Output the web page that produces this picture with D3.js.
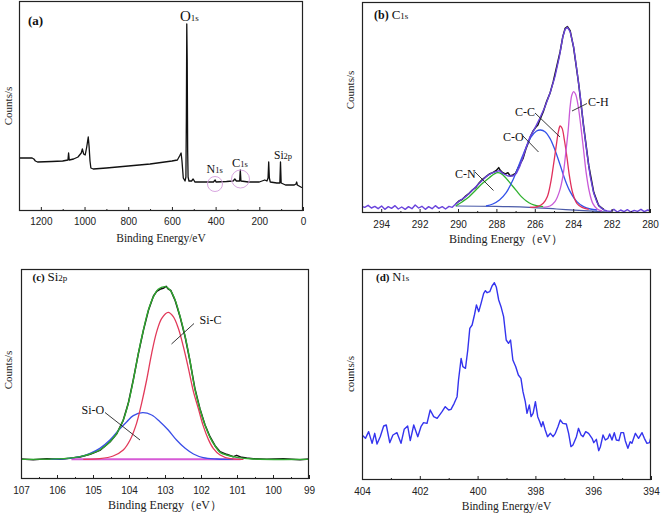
<!DOCTYPE html>
<html><head><meta charset="utf-8">
<script src="https://cdn.jsdelivr.net/npm/d3@7"></script>
<style>body{margin:0;background:#fff}</style>
</head><body><svg id="c" width="661" height="515"></svg>
<script>
// ---------- DATA (binding energy eV, intensity in arbitrary counts) ----------
const surveyData = [[1300,53],[1262,53],[1240,53],[1232,52],[1225,50],[1215,49],[1150,49.5],[1100,50],[1076,51],[1073,58],[1070,51],[1050,52],[1030,54],[1015,58],[1010,62],[1004,57],[997,56],[990,64],[983,74],[979,64],[975,50],[971,43],[960,42],[900,43],[800,45],[700,47],[600,50],[575,51],[565,55],[558,58],[554,50],[548,33],[540,30],[536,34],[534,90],[532,187],[530,150],[528,60],[526,34],[522,30],[510,30],[503,32],[500,31],[495,29],[450,29],[410,29],[402,31],[398,29],[350,29.5],[320,30],[312,32],[305,30],[290,30],[287,41],[284,30],[250,29],[200,29],[175,31],[165,30],[160,33],[157,49],[154,33],[150,29],[120,28],[106,28],[103,49],[100,28],[80,26],[40,26],[32,27],[29,29],[26,26],[10,24],[0,23]];
const surveyTicks = [1200,1000,800,600,400,200,0];
const surveyMinor = [1300,1100,900,700,500,300,100];

const c1sEnvelope = [[295.09,21],[294.86,17],[294.68,23],[294.51,15],[294.33,20],[294.16,13],[293.98,21],[293.81,11],[293.63,19],[293.46,14],[293.28,22],[293.11,12],[292.93,18],[292.75,11],[292.58,19],[292.40,13],[292.23,24],[292.05,15],[291.88,20],[291.70,11],[291.53,19],[291.35,13],[291.18,22],[291.00,14],[290.82,19],[290.65,12],[290.47,20],[290.30,17],[290.12,27],[289.86,39],[289.60,49],[289.33,64],[289.07,79],[288.81,94],[288.54,109],[288.28,119],[288.02,124],[287.84,127],[287.67,119],[287.40,111],[287.14,111],[286.96,119],[286.79,139],[286.61,169],[286.44,199],[286.26,227],[286.00,254],[285.74,284],[285.47,319],[285.21,359],[284.95,409],[284.72,469],[284.54,529],[284.42,551],[284.30,557],[284.16,544],[283.98,499],[283.81,429],[283.63,349],[283.46,259],[283.28,179],[283.11,109],[282.93,59],[282.75,31],[282.58,17],[282.40,9],[282.23,6],[282.05,5],[281.88,11],[281.70,3],[281.53,9],[281.35,4],[281.18,10],[281.00,3],[280.82,8],[280.65,5],[280.47,11],[280.30,4],[280.12,9],[279.98,6]];
const c1sRaw = [[290.12,27],[289.95,36],[289.77,41],[289.60,51],[289.42,59],[289.25,69],[289.07,77],[288.89,91],[288.72,101],[288.54,109],[288.37,117],[288.19,121],[288.02,127],[287.88,136],[287.81,129],[287.67,121],[287.53,117],[287.40,121],[287.28,111],[287.14,114],[287.00,119],[286.88,134],[286.75,149],[286.61,164],[286.47,191],[286.35,209],[286.23,229],[286.09,246],[285.95,257],[285.84,264],[285.74,279],[285.56,304],[285.39,334],[285.21,359],[285.04,394],[284.86,439],[284.68,484],[284.54,529],[284.42,554],[284.30,559],[284.16,547],[283.98,497],[283.72,390],[283.46,262],[283.19,142],[282.93,62],[282.67,22],[282.40,10]];
const c1sBaseline = [[290.12,21],[288.02,20],[286.26,17],[284.86,12],[283.46,7],[282.23,3]];
const c1sCN = [[290.12,21],[289.77,34],[289.42,49],[289.07,69],[288.72,89],[288.37,106],[288.11,117],[287.93,121],[287.75,118],[287.49,104],[287.23,86],[286.96,67],[286.70,49],[286.44,36],[286.18,27],[285.91,22],[285.56,19]];
const c1sCO = [[288.54,21],[288.19,27],[287.84,39],[287.49,61],[287.14,99],[286.79,149],[286.44,199],[286.18,229],[285.91,246],[285.70,249],[285.47,244],[285.21,224],[284.95,189],[284.68,144],[284.42,99],[284.16,64],[283.81,34],[283.46,19],[283.11,12],[282.75,9]];
const c1sCC = [[286.26,17],[285.82,20],[285.56,29],[285.35,49],[285.18,89],[285.04,139],[284.89,199],[284.77,244],[284.68,261],[284.58,254],[284.46,219],[284.33,169],[284.19,109],[284.02,59],[283.81,29],[283.54,17],[283.19,11]];
const c1sCH = [[285.56,17],[285.21,21],[284.95,34],[284.72,64],[284.54,109],[284.39,179],[284.26,249],[284.16,319],[284.07,354],[283.98,364],[283.88,357],[283.75,324],[283.60,259],[283.46,189],[283.32,119],[283.16,64],[282.98,29],[282.75,12],[282.49,6]];
const c1sTicks = [294,292,290,288,286,284,282,280];
const c1sMinor = [295,293,291,289,287,285,283,281];

const si2pRaw = [[107.00,60],[106.66,58],[106.29,61],[105.92,59],[105.64,62],[105.36,66],[105.08,74],[104.81,86],[104.53,111],[104.34,136],[104.16,176],[104.02,227],[103.88,298],[103.74,376],[103.60,446],[103.46,506],[103.32,549],[103.23,563],[103.14,569],[103.05,572],[102.97,578],[102.91,570],[102.84,566],[102.72,536],[102.58,486],[102.44,426],[102.31,356],[102.17,272],[102.03,211],[101.89,163],[101.75,127],[101.61,100],[101.47,82],[101.29,74],[101.10,67],[101.01,71],[100.87,65],[100.73,63],[100.55,61],[100.18,59],[99.71,61],[99.25,58],[98.99,60]];
const si2pEnvelope = [[107.00,59],[105.73,62],[105.36,67],[105.08,75],[104.81,87],[104.53,112],[104.34,137],[104.16,177],[104.02,227],[103.88,297],[103.74,377],[103.60,447],[103.46,507],[103.32,547],[103.19,569],[103.00,577],[102.86,567],[102.72,537],[102.58,487],[102.44,427],[102.31,357],[102.17,270],[102.03,210],[101.89,162],[101.75,125],[101.61,99],[101.47,80],[101.29,72],[101.01,65],[100.55,60],[98.99,59]];
const si2pSiC = [[105.27,59],[104.81,61],[104.44,69],[104.16,87],[103.97,117],[103.79,167],[103.65,227],[103.51,297],[103.37,377],[103.23,442],[103.09,482],[102.91,500],[102.77,487],[102.63,452],[102.49,397],[102.35,332],[102.21,262],[102.07,210],[101.94,160],[101.80,120],[101.66,92],[101.47,72],[101.19,61],[100.82,59]];
const si2pSiO = [[106.19,59],[105.73,61],[105.36,67],[105.08,77],[104.81,92],[104.53,117],[104.30,145],[104.06,172],[103.88,190],[103.62,199],[103.37,192],[103.14,172],[102.91,147],[102.68,117],[102.44,92],[102.21,75],[101.94,64],[101.56,60],[101.10,59]];
const si2pBaseline = [[105.6,59],[100.9,59]];
const si2pTicks = [107,106,105,104,103,102,101,100,99];
const si2pMinor = [106.5,105.5,104.5,103.5,102.5,101.5,100.5,99.5];

const n1sData = [[404.00,135],[403.88,125],[403.77,145],[403.65,110],[403.56,140],[403.48,108],[403.37,130],[403.25,162],[403.16,165],[403.04,112],[402.93,135],[402.79,142],[402.65,110],[402.54,152],[402.42,162],[402.33,118],[402.21,165],[402.07,130],[401.96,160],[401.87,172],[401.75,170],[401.64,210],[401.52,190],[401.40,185],[401.23,205],[401.12,220],[401.00,210],[400.92,212],[400.81,230],[400.71,250],[400.66,300],[400.57,365],[400.51,340],[400.42,335],[400.34,390],[400.27,455],[400.19,465],[400.11,495],[400.04,525],[399.96,505],[399.88,530],[399.79,560],[399.73,568],[399.67,562],[399.58,565],[399.50,582],[399.42,592],[399.35,578],[399.27,540],[399.19,520],[399.10,490],[399.01,420],[398.93,410],[398.86,420],[398.78,360],[398.68,340],[398.59,315],[398.50,305],[398.43,265],[398.35,235],[398.29,200],[398.21,225],[398.15,190],[398.08,200],[398.00,235],[397.92,190],[397.85,175],[397.79,160],[397.74,175],[397.66,150],[397.58,130],[397.48,140],[397.39,130],[397.31,140],[397.22,160],[397.14,180],[397.05,170],[396.93,168],[396.85,140],[396.77,100],[396.70,105],[396.58,130],[396.51,155],[396.42,135],[396.35,130],[396.26,145],[396.16,140],[396.04,125],[395.98,112],[395.89,122],[395.81,88],[395.75,100],[395.66,135],[395.58,120],[395.49,125],[395.43,138],[395.35,120],[395.27,142],[395.20,120],[395.11,118],[395.04,142],[394.95,142],[394.89,118],[394.80,95],[394.72,115],[394.66,110],[394.54,140],[394.43,125],[394.31,142],[394.23,125],[394.14,110],[394.05,112],[394.00,130]];
const n1sTicks = [404,402,400,398,396,394];
const n1sMinor = [403,401,399,397,395];

// ---------- DRAWING ----------
const svg = d3.select("#c");
const serif = "'Liberation Serif','Times New Roman',serif";
const sans = "'Liberation Sans',Arial,sans-serif";

function panel(cfg){
  const x = d3.scaleLinear().domain(cfg.xDom).range([cfg.L, cfg.R]);
  const y = d3.scaleLinear().domain(cfg.yDom).range([cfg.B, cfg.T]);
  const g = svg.append("g");
  const clipId = "clip" + Math.round(cfg.L) + "_" + Math.round(cfg.T);
  g.append("clipPath").attr("id", clipId).append("rect")
    .attr("x", cfg.L).attr("y", cfg.T).attr("width", cfg.R - cfg.L).attr("height", cfg.B - cfg.T);
  const plot = g.append("g").attr("clip-path", `url(#${clipId})`);
  const ax = g.append("g").attr("transform", `translate(0,${cfg.B})`)
    .call(d3.axisBottom(x).tickValues(cfg.major).tickSize(-4).tickSizeOuter(0).tickPadding(cfg.pad || 7).tickFormat(d3.format("d")));
  ax.select(".domain").remove();
  ax.selectAll("line").attr("stroke", "#222");
  ax.selectAll("text").attr("font-family", sans).attr("font-size", 10).attr("fill", "#222");
  const mx = g.append("g").attr("transform", `translate(0,${cfg.B})`)
    .call(d3.axisBottom(x).tickValues(cfg.minor).tickSize(-2).tickSizeOuter(0).tickFormat(""));
  mx.select(".domain").remove();
  mx.selectAll("line").attr("stroke", "#222");
  g.append("rect").attr("x", cfg.L + 0.5).attr("y", cfg.T + 0.5)
    .attr("width", cfg.R - cfg.L - 1).attr("height", cfg.B - cfg.T - 1)
    .attr("fill", "none").attr("stroke", "#222").attr("stroke-width", 1.2);
  g.append("text").attr("x", (cfg.L + cfg.R) / 2).attr("y", cfg.titleY)
    .attr("text-anchor", "middle").attr("font-family", serif).attr("font-size", cfg.titleSize || 12)
    .attr("fill", "#222").text(cfg.xTitle);
  g.append("text").attr("transform", `translate(${cfg.yx},${cfg.yy}) rotate(-90)`)
    .attr("text-anchor", "middle").attr("font-family", serif).attr("font-size", 11)
    .attr("fill", "#222").text(cfg.yTitle);
  return {g, plot, x, y};
}

function drawLine(p, data, color, width, curve){
  const sorted = data.slice().sort((a, b) => p.x(a[0]) - p.x(b[0]));
  p.plot.append("path").datum(sorted)
    .attr("d", d3.line().x(d => p.x(d[0])).y(d => p.y(d[1])).curve(curve || d3.curveLinear))
    .attr("fill", "none").attr("stroke", color).attr("stroke-width", width)
    .attr("stroke-linejoin", "round");
}

function subText(g, x, y, parts){
  const t = g.append("text").attr("x", x).attr("y", y).attr("font-family", serif).attr("fill", "#111");
  parts.forEach(pt => {
    const s = t.append("tspan").attr("font-size", pt.size).text(pt.t);
    if (pt.bold) s.attr("font-weight", "bold");
  });
  return t;
}
function label(g, x, y, txt, size){
  g.append("text").attr("x", x).attr("y", y).attr("font-family", serif)
    .attr("font-size", size || 12).attr("fill", "#111").text(txt);
}
function leader(g, x1, y1, x2, y2){
  g.append("line").attr("x1", x1).attr("y1", y1).attr("x2", x2).attr("y2", y2)
    .attr("stroke", "#222").attr("stroke-width", 0.9);
}

const smooth = d3.curveCatmullRom.alpha(0.5);

// (a) survey
const pa = panel({L:19, R:303, T:1, B:211, xDom:[1300,0], yDom:[0,210], major:surveyTicks, minor:surveyMinor,
  xTitle:"Binding Energy/eV", titleY:242, titleSize:11.5, yTitle:"Counts/s", yx:12, yy:106, pad:7});
drawLine(pa, surveyData, "#111", 1.3);
subText(pa.g, 28, 25, [{t:"(a)", size:13, bold:true}]);
subText(pa.g, 180, 21, [{t:"O", size:15}, {t:"1s", size:9}]);
subText(pa.g, 206.5, 173, [{t:"N", size:12}, {t:"1s", size:8.5}]);
subText(pa.g, 232, 167, [{t:"C", size:12.5}, {t:"1s", size:8.5}]);
subText(pa.g, 274, 158.5, [{t:"Si", size:11.5}, {t:"2p", size:8.5}]);
pa.g.append("circle").attr("cx", 215).attr("cy", 184).attr("r", 7.5).attr("fill", "none").attr("stroke", "#d8a6e0").attr("stroke-width", 1);
pa.g.append("circle").attr("cx", 240.5).attr("cy", 179).attr("r", 9).attr("fill", "none").attr("stroke", "#d8a6e0").attr("stroke-width", 1);

// (b) C1s
const pb = panel({L:362, R:650, T:2, B:213, xDom:[295,280], yDom:[0,633], major:c1sTicks, minor:c1sMinor,
  xTitle:"Binding Energy（eV）", titleY:243, yTitle:"Counts/s", yx:354, yy:90, pad:8});
drawLine(pb, c1sRaw, "#111", 1.5);
drawLine(pb, c1sBaseline, "#4a5aa8", 1.2, smooth);
drawLine(pb, c1sCN, "#2fb12f", 1.3, smooth);
drawLine(pb, c1sCO, "#3452ea", 1.3, smooth);
drawLine(pb, c1sCC, "#e0305c", 1.3, smooth);
drawLine(pb, c1sCH, "#c95ad8", 1.3, smooth);
drawLine(pb, c1sEnvelope, "#6a44dc", 1.4);
subText(pb.g, 374, 18.5, [{t:"(b) ", size:12, bold:true}, {t:"C", size:13}, {t:"1s", size:9}]);
label(pb.g, 588, 106, "C-H");
leader(pb.g, 587, 103.5, 572, 111);
label(pb.g, 515, 116, "C-C");
leader(pb.g, 535, 113, 560, 137);
label(pb.g, 503, 141, "C-O");
leader(pb.g, 523, 136, 538.5, 152);
label(pb.g, 455, 177.5, "C-N");
leader(pb.g, 475, 172, 493.5, 190.5);

// (c) Si2p
const pc = panel({L:21, R:309, T:269, B:479, xDom:[107,99], yDom:[0,630], major:si2pTicks, minor:si2pMinor,
  xTitle:"Binding Energy（eV）", titleY:509, yTitle:"Counts/s", yx:12, yy:370, pad:8});
drawLine(pc, si2pRaw, "#111", 1.5);
drawLine(pc, si2pBaseline, "#d65ad6", 2);
drawLine(pc, si2pSiO, "#3a4ee8", 1.3, smooth);
drawLine(pc, si2pSiC, "#e23a5a", 1.3, smooth);
drawLine(pc, si2pEnvelope, "#2fa82f", 1.4, smooth);
subText(pc.g, 32.5, 280.5, [{t:"(c) ", size:11, bold:true}, {t:"Si", size:13}, {t:"2p", size:9}]);
label(pc.g, 199.5, 323.5, "Si-C");
leader(pc.g, 194, 323.5, 171.5, 344);
label(pc.g, 81.5, 413.5, "Si-O");
leader(pc.g, 105, 412.5, 140, 440);

// (d) N1s
const pd = panel({L:362, R:651, T:269, B:480, xDom:[404,394], yDom:[0,633], major:n1sTicks, minor:n1sMinor,
  xTitle:"Binding Energy/eV", titleY:510, titleSize:11.5, yTitle:"counts/s", yx:354, yy:374, pad:8});
drawLine(pd, n1sData, "#3434ee", 1.4);
subText(pd.g, 376, 281, [{t:"(d) ", size:11, bold:true}, {t:"N", size:12.5}, {t:"1s", size:9}]);
</script>
</body></html>
